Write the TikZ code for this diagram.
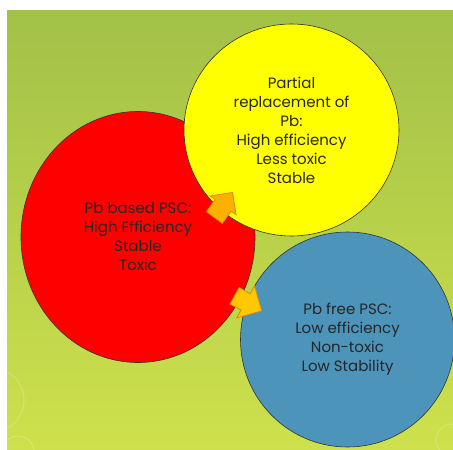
\documentclass[tikz,border=0pt]{standalone}
\usepackage{fontspec}
\setmainfont{Poppins}
\usetikzlibrary{shapes.geometric,shapes.arrows}
\definecolor{bgtop}{RGB}{162,193,72}
\definecolor{bgbot}{RGB}{206,225,76}
\definecolor{pbred}{RGB}{255,0,0}
\definecolor{pbyellow}{RGB}{255,255,0}
\definecolor{pbblue}{RGB}{76,148,186}
\definecolor{arrfill}{RGB}{252,176,0}
\definecolor{arrline}{RGB}{222,136,20}
\begin{document}
\begin{tikzpicture}[x=1pt,y=-1pt,
    blob/.style={ellipse,draw=black!80,line width=0.6pt,inner sep=0pt,align=center,
      text=black!85,font=\fontsize{15}{19}\selectfont},
    push/.style={single arrow,draw=arrline,fill=arrfill,line width=0.8pt,inner xsep=0pt,
      inner ysep=9.5pt,minimum height=31pt,single arrow head extend=6pt}]
    \useasboundingbox (0,0) rectangle (453,450);
    \shade[top color=bgtop,bottom color=bgbot] (7,10) rectangle (453,449);
    \begin{scope}
      \clip (7,10) rectangle (453,449);
      \draw[white,opacity=.25,line width=.8pt] (-8,400) circle (32) (18,452) circle (16) (452,440) circle (16);
    \end{scope}
    \node[blob,fill=pbred,minimum width=234pt,minimum height=251pt] (based) at (138,237)
      {Pb based PSC:\\High Efficiency\\Stable\\Toxic};
    \node[blob,fill=pbyellow,minimum width=215pt,minimum height=212pt] (partial) at (291.5,130)
      {Partial\\replacement of\\Pb:\\High efficiency\\Less toxic\\Stable};
    \node[blob,fill=pbblue,minimum width=214pt,minimum height=215pt] (free) at (347.5,339.5)
      {Pb free PSC:\\Low efficiency\\Non-toxic\\Low Stability};
    \node[push,rotate=54] (up) at (220.5,209) {};
    \node[push,rotate=-29,inner ysep=9pt,single arrow head extend=9pt,fill=arrfill!70!yellow] (down) at (244,301) {};
\end{tikzpicture}
\end{document}
